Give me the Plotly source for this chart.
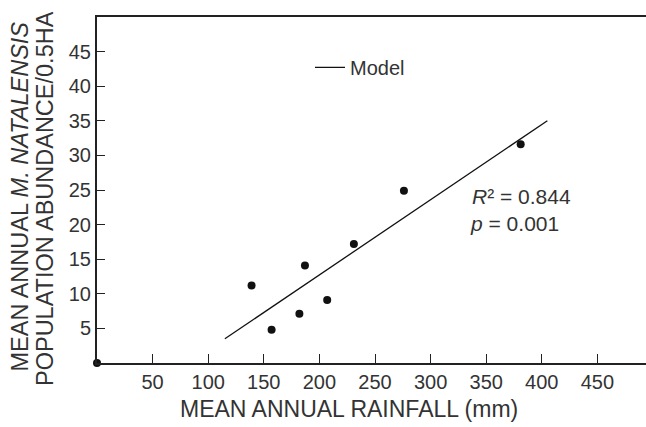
import plotly.graph_objects as go

# Observed data
rainfall = [139, 157, 182, 187, 207, 231, 276, 381]
abundance = [11.2, 4.8, 7.1, 14.1, 9.1, 17.2, 24.9, 31.6]

# Model (regression) line end points
model_x = [115, 405]
model_y = [3.5, 35.0]

x_ticks = [50, 100, 150, 200, 250, 300, 350, 400, 450]
y_ticks = [5, 10, 15, 20, 25, 30, 35, 40, 45]

FONT = "Liberation Sans, Arial, sans-serif"
TXT = "#333333"

W, H = 646, 427
L, T, B = 97, 17, 64
PW, PH = W - L, H - T - B


def px(sx):  # screen x -> paper x
    return (sx - L) / PW


def py(sy):  # screen y -> paper y
    return (H - B - sy) / PH


fig = go.Figure()
fig.add_trace(go.Scatter(x=model_x, y=model_y, mode="lines", name="Model",
                         line=dict(color="#111111", width=1.3), showlegend=True))
fig.add_trace(go.Scatter(x=rainfall, y=abundance, mode="markers", showlegend=False,
                         marker=dict(color="#111111", size=8)))
fig.add_trace(go.Scatter(x=[0], y=[0], mode="markers", showlegend=False, cliponaxis=False,
                         marker=dict(color="#111111", size=8)))

fig.update_layout(
    width=W, height=H,
    margin=dict(l=L, r=0, t=T, b=B),
    paper_bgcolor="white", plot_bgcolor="white",
    font=dict(family=FONT, color=TXT, size=20),
    showlegend=True,
    legend=dict(x=px(310), y=py(67.3), xanchor="left", yanchor="middle",
                bgcolor="rgba(0,0,0,0)", font=dict(size=20, color=TXT),
                itemwidth=30),
    xaxis=dict(range=[0, 493.7], tickvals=x_ticks, ticks="inside", ticklen=9,
               tickwidth=1.3, tickcolor="#222222", showline=True, linecolor="#222222",
               linewidth=2, mirror=True, showgrid=False, zeroline=False,
               tickfont=dict(size=20, color=TXT)),
    yaxis=dict(range=[0, 50], tickvals=y_ticks, ticks="inside", ticklen=8,
               tickwidth=1.3, tickcolor="#222222", showline=True, linecolor="#222222",
               linewidth=2, showgrid=False, zeroline=False,
               tickfont=dict(size=20, color=TXT)),
    annotations=[
        dict(text="MEAN ANNUAL RAINFALL (mm)", xref="paper", yref="paper",
             x=px(349), y=py(409), xanchor="center", yanchor="middle",
             showarrow=False, font=dict(size=23, color=TXT)),
        dict(text="MEAN ANNUAL <i>M. NATALENSIS</i>", xref="paper", yref="paper",
             x=px(19), y=py(196.5), xanchor="center", yanchor="middle",
             textangle=-90, showarrow=False, font=dict(size=23.5, color=TXT)),
        dict(text="POPULATION ABUNDANCE/0.5HA", xref="paper", yref="paper",
             x=px(45.5), y=py(198.5), xanchor="center", yanchor="middle",
             textangle=-90, showarrow=False, font=dict(size=23.5, color=TXT)),
        dict(text="<i>R</i>² = 0.844", x=335.6, y=24.06, xanchor="left", yanchor="middle",
             showarrow=False, font=dict(size=21, color=TXT)),
        dict(text="<i>p</i> = 0.001", x=334, y=20.1, xanchor="left", yanchor="middle",
             showarrow=False, font=dict(size=21, color=TXT)),
    ],
)

fig.write_html("out.html", config={"displayModeBar": False},
               post_script="document.body.style.margin='0';document.body.style.overflow='hidden';")
